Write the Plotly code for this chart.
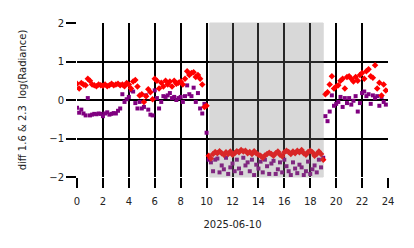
import plotly.graph_objects as go

# sample times: every 10 minutes over the day (hours)
hours = [h + m / 60 for h in range(24) for m in (0, 10, 20, 30, 40, 50)]

red_vals = [
    0.42, 0.30, 0.44, 0.40, 0.38, 0.55,
    0.50, 0.40, 0.38, 0.36, 0.40, 0.38,
    0.37, 0.40, 0.36, 0.38, 0.42, 0.38,
    0.40, 0.42, 0.38, 0.40, 0.36, 0.44,
    0.40, 0.30, 0.48, 0.52, 0.35, 0.12,
    0.15, -0.05, 0.10, 0.28, 0.20, 0.02,
    0.55, 0.50, 0.30, 0.45, 0.35, 0.50,
    0.40, 0.48, 0.35, 0.50, 0.42, 0.45,
    0.48, 0.40, 0.55, 0.75, 0.65, 0.70,
    0.72, 0.60, 0.65, 0.55, 0.40, -0.18,
    -0.15, -1.45, -1.52, -1.40, -1.35, -1.38,
    -1.33, -1.38, -1.42, -1.36, -1.40, -1.34,
    -1.42, -1.38, -1.33, -1.36, -1.30, -1.34,
    -1.32, -1.38, -1.35, -1.40, -1.33, -1.38,
    -1.42, -1.45, -1.50, -1.44, -1.40, -1.37,
    -1.40, -1.45, -1.38, -1.34, -1.42, -1.46,
    -1.36, -1.32, -1.35, -1.40, -1.34, -1.38,
    -1.32, -1.36, -1.30, -1.38, -1.42, -1.35,
    -1.32, -1.36, -1.45, -1.40, -1.34, -1.40,
    -1.55, 0.15, 0.20, 0.40, 0.62, 0.30,
    0.35, 0.38, 0.50, 0.55, 0.30, 0.60,
    0.62, 0.55, 0.48, 0.60, 0.50, 0.65,
    0.70, 0.55, 0.75, 0.80, 0.62, 0.58,
    0.90, 0.30, 0.45, 0.12, 0.40, 0.25,
]

purple_vals = [
    -0.20, -0.33, -0.25, -0.35, -0.40, 0.05,
    -0.40, -0.38, -0.36, -0.37, -0.35, -0.36,
    -0.42, -0.35, -0.32, -0.38, -0.36, -0.34,
    -0.35, -0.28, -0.22, 0.15, -0.05, 0.02,
    0.08, 0.25, 0.22, -0.08, -0.22, -0.05,
    -0.22, -0.18, 0.12, -0.25, -0.38, -0.40,
    0.25, 0.05, -0.22, -0.05, 0.10, 0.08,
    0.12, 0.18, 0.05, 0.08, 0.00, 0.05,
    0.08, -0.05, 0.10, 0.38, 0.15, 0.10,
    0.32, -0.05, 0.18, -0.22, -0.35, -0.10,
    -0.85, -1.55, -1.62, -1.85, -1.55, -1.52,
    -1.88, -1.70, -1.80, -1.50, -1.92, -1.75,
    -1.65, -1.85, -1.55, -1.78, -1.90, -1.50,
    -1.70, -1.62, -1.85, -1.55, -1.95, -1.68,
    -1.78, -1.60, -1.88, -1.55, -1.72, -1.92,
    -1.65, -1.58, -1.92, -1.80, -1.62, -1.88,
    -1.55, -1.72, -1.85, -1.95, -1.62, -1.78,
    -1.90, -1.68, -1.75, -1.95, -1.85, -1.60,
    -1.92, -1.80, -1.70, -1.88, -1.55, -1.75,
    -1.50, -0.42, -0.55, -0.30, 0.12, -0.15,
    -0.10, -0.05, 0.08, -0.18, 0.05, -0.08,
    0.05, -0.12, -0.02, 0.10, -0.30, -0.08,
    0.18, 0.22, 0.10, 0.15, -0.10, 0.12,
    0.05, 0.10, -0.15, 0.08, -0.05, -0.12,
]

shade_start, shade_end = 10.25, 19.0
x_ticks = [0, 2, 4, 6, 8, 10, 12, 14, 16, 18, 20, 22, 24]
y_ticks = [-2, -1, 0, 1, 2]

fig = go.Figure()
fig.add_trace(go.Scatter(x=hours, y=purple_vals, mode="markers",
                         marker=dict(symbol="square", size=4, color="purple"),
                         showlegend=False))
fig.add_trace(go.Scatter(x=hours, y=red_vals, mode="markers",
                         marker=dict(symbol="diamond", size=5, color="red"),
                         showlegend=False))

fig.add_shape(type="rect", xref="x", yref="y domain", x0=shade_start, x1=shade_end,
              y0=0, y1=1, fillcolor="gray", opacity=0.3, layer="above",
              line=dict(width=1, color="gray"))

fs = 10
font = dict(family="DejaVu Sans", size=fs, color="#222")
fig.update_layout(
    width=414, height=248,
    margin=dict(l=77, r=26, t=23, b=71),
    paper_bgcolor="white", plot_bgcolor="white",
    font=font,
    xaxis=dict(range=[0, 24], tickvals=x_ticks, ticks="outside", ticklen=10,
               tickwidth=2, tickcolor="black", showgrid=True, gridcolor="black",
               gridwidth=2, zeroline=False, showline=False, ticklabelstandoff=5,
               title=dict(text="2025-06-10", font=dict(family="DejaVu Sans", size=fs), standoff=14)),
    yaxis=dict(range=[-2, 2], tickvals=y_ticks, ticks="outside", ticklen=10,
               tickwidth=2, tickcolor="black", showgrid=True, gridcolor="black",
               gridwidth=2, zeroline=False, showline=False, ticklabelstandoff=0,
               title=dict(text="diff 1.6 &amp; 2.3  log(Radiance)", font=dict(family="DejaVu Sans", size=fs), standoff=20)),
)

fig.write_html("out.html")
